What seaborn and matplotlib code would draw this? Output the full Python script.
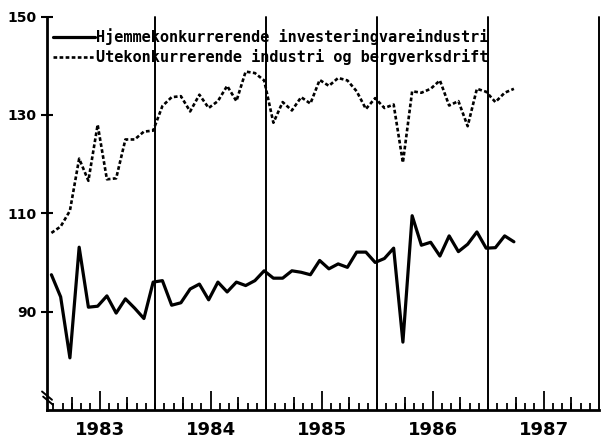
import numpy as np
import pandas as pd
import seaborn as sns
from matplotlib import pyplot as plt

# monthly index values, jan 1983 - mar 1987
hjemme = [97.5, 93.0, 80.6, 103.1, 90.9, 91.1, 93.2, 89.7, 92.6, 90.7, 88.6, 96.0,
          96.3, 91.3, 91.8, 94.6, 95.6, 92.4, 96.0, 94.0, 96.0, 95.3, 96.3, 98.3,
          96.8, 96.8, 98.3, 98.0, 97.5, 100.4, 98.7, 99.7, 99.0, 102.1, 102.1, 100.0,
          100.8, 102.9, 83.8, 109.5, 103.5, 104.1, 101.3, 105.4, 102.2, 103.7, 106.2, 102.9,
          103.0, 105.4, 104.2]
ute = [106.0, 107.3, 110.5, 121.1, 116.6, 128.0, 116.9, 117.1, 125.0, 125.0, 126.6, 126.8,
       131.8, 133.6, 133.8, 130.7, 134.1, 131.4, 132.8, 135.9, 132.8, 138.8, 138.5, 137.0,
       128.4, 132.6, 130.9, 133.6, 132.3, 137.1, 135.9, 137.5, 137.0, 134.8, 131.2, 133.4,
       131.4, 132.1, 120.3, 134.8, 134.5, 135.3, 137.0, 131.9, 132.8, 127.7, 135.3, 134.7,
       132.6, 134.5, 135.3]
labels = ["Hjemmekonkurrerende investeringvareindustri",
          "Utekonkurrerende industri og bergverksdrift"]
years = ["1983", "1984", "1985", "1986", "1987"]
yticks = [90, 110, 130, 150]

start = 1983
months = np.arange(len(hjemme))
df = pd.DataFrame({"t": start + (months + 0.8) / 12,
                   labels[0]: hjemme, labels[1]: ute})

sns.set_style("ticks")
plt.rcParams["font.family"] = ["DejaVu Sans"]
plt.rcParams["text.color"] = "black"
plt.rcParams["xtick.color"] = "black"
plt.rcParams["ytick.color"] = "black"
plt.rcParams["axes.edgecolor"] = "black"

fig = plt.figure(figsize=(6.14, 4.43), dpi=100)
ax = fig.add_axes([47 / 614, 1 - 410 / 443, 552 / 614, 393.5 / 443])

sns.lineplot(data=df, x="t", y=labels[0], color="black", lw=2.3,
             label=labels[0], ax=ax)
sns.lineplot(data=df, x="t", y=labels[1], color="black", lw=1.9,
             linestyle=(0, (1.4, 0.9)), label=labels[1], ax=ax)

ax.set_xlim(start + 0.027, start + 5)
ax.set_ylim(70, 150)
ax.set_xlabel("")
ax.set_ylabel("")

# year separators
for k in range(1, len(years) + 1):
    ax.axvline(start + k, color="black", lw=1.4, clip_on=False, zorder=1)

# x ticks: labels mid-year, month minor ticks, quarter ticks drawn as short lines
ax.set_xticks([start + k + 0.5 for k in range(len(years))], labels=years,
              fontfamily=["Liberation Sans Narrow", "DejaVu Sans"],
              fontweight="bold", fontsize=13)
ax.set_xticks([start + m / 12 for m in range(1, 12 * len(years))], minor=True)
ax.tick_params(axis="x", which="major", direction="in", length=14, width=1.3, pad=8)
ax.tick_params(axis="x", which="minor", direction="in", length=5, width=1.3)
quarters = [start + k + q for k in range(len(years)) for q in (0.25, 0.75)]
ax.vlines(quarters, 0, 13 / 393.5, transform=ax.get_xaxis_transform(),
          color="black", lw=1.3)

ax.set_yticks(yticks)
ax.tick_params(axis="y", direction="inout", length=9, width=1.5, pad=3)
for t in ax.get_yticklabels():
    t.set_fontweight("bold")
    t.set_fontsize(10)

sns.despine(ax=ax)
ax.spines["left"].set_linewidth(2)
ax.spines["bottom"].set_linewidth(2)

# axis break mark
ax.plot([-0.009, 0.009], [0.047, 0.026], transform=ax.transAxes,
        color="black", lw=1.4, clip_on=False)
ax.plot([-0.007, 0.011], [0.034, 0.013], transform=ax.transAxes,
        color="black", lw=1.4, clip_on=False)

ax.legend(loc="upper left", bbox_to_anchor=(0.0, 0.985), frameon=False,
          prop={"family": "DejaVu Sans Mono", "weight": "bold", "size": 11},
          handlelength=2.75, handletextpad=0.05, labelspacing=0.25,
          borderpad=0.2, borderaxespad=0.2)

fig.savefig("out.png", dpi=100)
